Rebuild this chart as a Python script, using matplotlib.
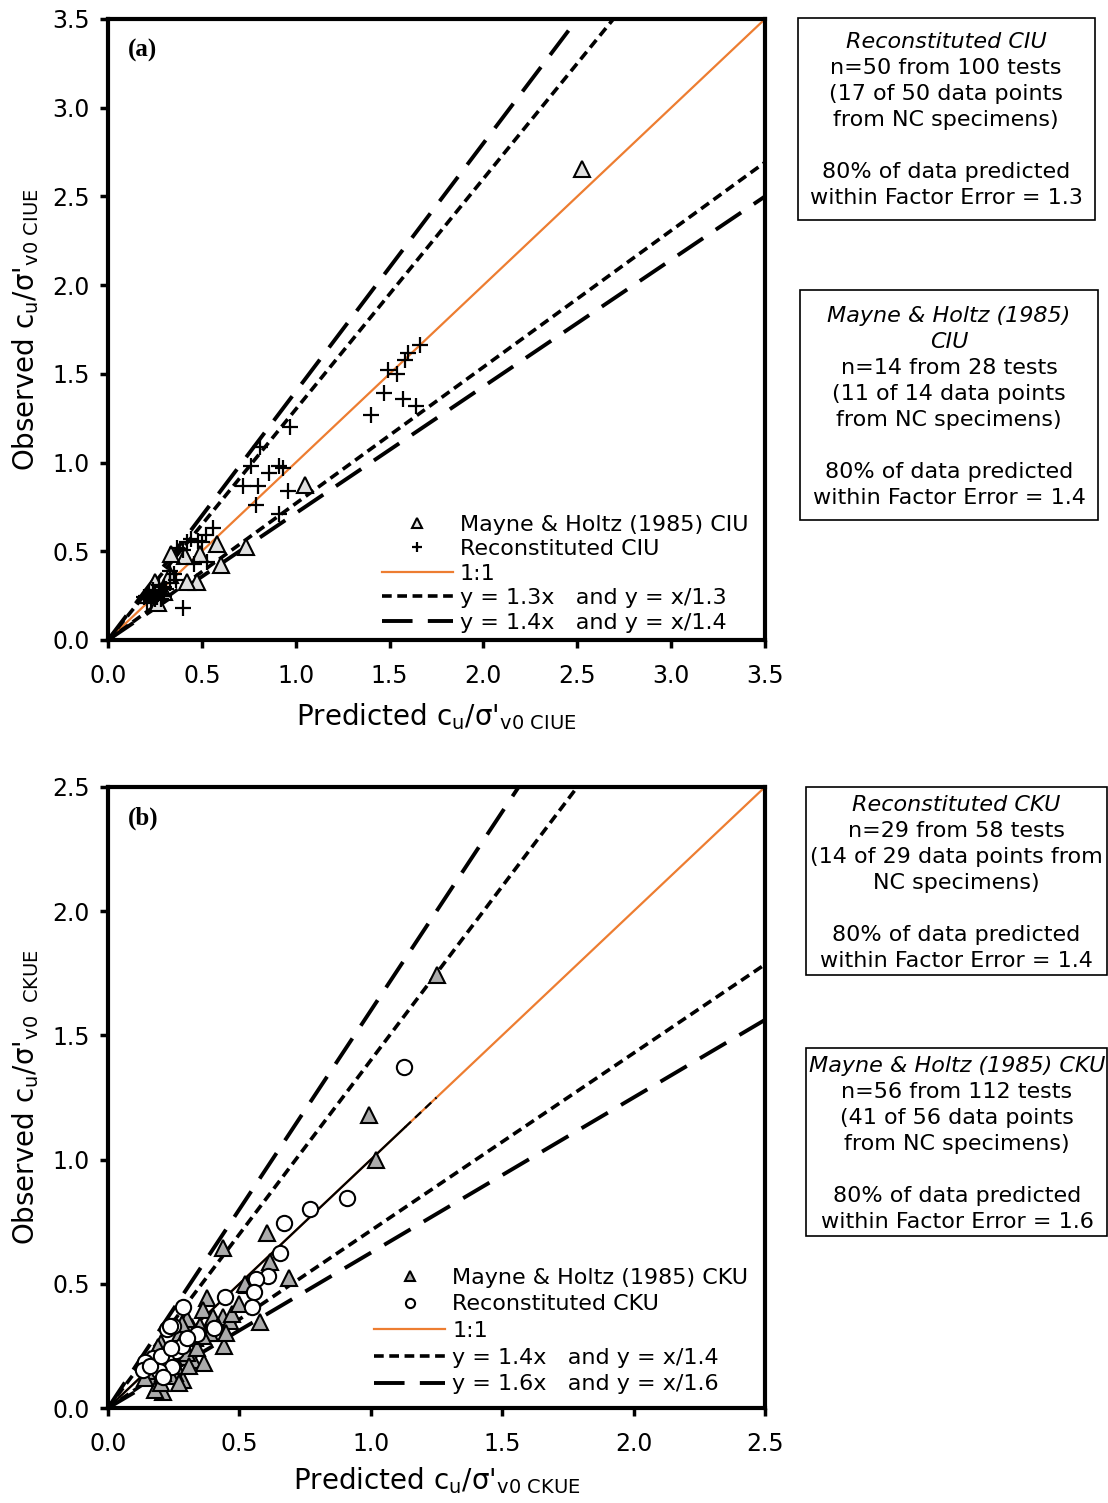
import matplotlib
matplotlib.use("Agg")
import matplotlib.pyplot as plt
import numpy as np
from matplotlib.patches import Rectangle

plt.rcParams['font.family'] = ['DejaVu Sans']
plt.rcParams['lines.scale_dashes'] = False

# ---------------- Data: panel (a) ----------------
mh_ciu_x = [2.525, 1.05, 0.733, 0.600, 0.579, 0.490, 0.410, 0.336, 0.472, 0.423, 0.330, 0.250, 0.268, 0.30]
mh_ciu_y = [2.655, 0.874, 0.526, 0.423, 0.539, 0.485, 0.475, 0.485, 0.329, 0.325, 0.366, 0.329, 0.207, 0.27]

rc_ciu_x = [1.66, 1.60, 1.58, 1.49, 1.54, 1.47, 1.57, 1.64, 1.40, 0.97,
            0.81, 0.76, 0.91, 0.93, 0.86, 0.72, 0.80, 0.96, 0.79, 0.91,
            0.56, 0.52, 0.50, 0.44, 0.40, 0.53, 0.46, 0.40, 0.36, 0.31,
            0.30, 0.28, 0.26, 0.22, 0.19, 0.21, 0.25, 0.33, 0.27, 0.23,
            0.24, 0.29, 0.35, 0.42, 0.20, 0.33, 0.25, 0.30, 0.37, 0.48]
rc_ciu_y = [1.66, 1.62, 1.58, 1.52, 1.50, 1.39, 1.36, 1.32, 1.27, 1.20,
            1.09, 0.98, 0.98, 0.97, 0.94, 0.87, 0.87, 0.84, 0.76, 0.71,
            0.63, 0.59, 0.55, 0.57, 0.51, 0.44, 0.43, 0.18, 0.34, 0.29,
            0.30, 0.23, 0.24, 0.26, 0.24, 0.21, 0.27, 0.32, 0.31, 0.22,
            0.28, 0.26, 0.37, 0.55, 0.25, 0.39, 0.23, 0.25, 0.52, 0.56]

# ---------------- Data: panel (b) ----------------
rc_cku_x = [1.126, 0.909, 0.767, 0.668, 0.654, 0.607, 0.563, 0.556, 0.547, 0.444,
            0.287, 0.249, 0.223, 0.405, 0.337, 0.259, 0.173, 0.141, 0.219, 0.242,
            0.132, 0.195, 0.210, 0.235, 0.28, 0.16, 0.20, 0.30, 0.24]
rc_cku_y = [1.373, 0.845, 0.800, 0.744, 0.625, 0.530, 0.518, 0.468, 0.408, 0.447,
            0.406, 0.331, 0.318, 0.323, 0.297, 0.229, 0.200, 0.186, 0.193, 0.166,
            0.153, 0.150, 0.126, 0.330, 0.25, 0.17, 0.21, 0.28, 0.24]

mh_cku_x = [1.252, 0.993, 1.020, 0.606, 0.436, 0.616, 0.528, 0.690, 0.578, 0.378,
            0.363, 0.401, 0.439, 0.464, 0.318, 0.309, 0.373, 0.274, 0.202, 0.325,
            0.283, 0.367, 0.287, 0.255, 0.160, 0.185, 0.210, 0.179, 0.191, 0.441,
            0.52, 0.33, 0.25, 0.22, 0.30, 0.35, 0.42, 0.28, 0.24, 0.20,
            0.17, 0.26, 0.31, 0.23, 0.47, 0.39, 0.34, 0.14, 0.19, 0.27,
            0.21, 0.36, 0.50, 0.30, 0.45, 0.28]
mh_cku_y = [1.743, 1.180, 0.998, 0.703, 0.643, 0.589, 0.495, 0.522, 0.347, 0.442,
            0.395, 0.365, 0.368, 0.351, 0.327, 0.314, 0.301, 0.301, 0.260, 0.193,
            0.207, 0.180, 0.113, 0.142, 0.126, 0.086, 0.066, 0.072, 0.247, 0.250,
            0.50, 0.28, 0.20, 0.17, 0.22, 0.33, 0.33, 0.27, 0.13, 0.10,
            0.15, 0.17, 0.17, 0.22, 0.38, 0.30, 0.24, 0.12, 0.18, 0.10,
            0.14, 0.29, 0.42, 0.36, 0.30, 0.34]

ticks_a = [0.0, 0.5, 1.0, 1.5, 2.0, 2.5, 3.0, 3.5]
ticks_b = [0.0, 0.5, 1.0, 1.5, 2.0, 2.5]
factors_a = (1.3, 1.4)
factors_b = (1.4, 1.6)
black_overlay_b = [0.0, 1.13]
black_dash_b = [1.13, 1.25]

box_texts_a = [
    [("Reconstituted CIU", True), ("n=50 from 100 tests", False), ("(17 of 50 data points", False),
     ("from NC specimens)", False), ("", False), ("80% of data predicted", False),
     ("within Factor Error = 1.3", False)],
    [("Mayne & Holtz (1985)", True), ("CIU", True), ("n=14 from 28 tests", False),
     ("(11 of 14 data points", False), ("from NC specimens)", False), ("", False),
     ("80% of data predicted", False), ("within Factor Error = 1.4", False)],
]
box_texts_b = [
    [("Reconstituted CKU", True), ("n=29 from 58 tests", False), ("(14 of 29 data points from", False),
     ("NC specimens)", False), ("", False), ("80% of data predicted", False),
     ("within Factor Error = 1.4", False)],
    [("Mayne & Holtz (1985) CKU", True), ("n=56 from 112 tests", False), ("(41 of 56 data points", False),
     ("from NC specimens)", False), ("", False), ("80% of data predicted", False),
     ("within Factor Error = 1.6", False)],
]

W, H = 1108, 1503
fig = plt.figure(figsize=(W / 100, H / 100), dpi=100)

def fx(px):
    return px / W

def fy(py):
    return 1 - py / H

ORANGE = '#ED7D31'
SHORT = (7, 4)
LONG = (22, 11)

def style_axes(ax, ticks):
    lim = ticks[-1]
    ax.set_xlim(0, lim)
    ax.set_ylim(0, lim)
    ax.set_xticks(ticks)
    ax.set_yticks(ticks)
    ax.set_xticklabels([f"{t:.1f}" for t in ticks])
    ax.set_yticklabels([f"{t:.1f}" for t in ticks])
    for s in ax.spines.values():
        s.set_linewidth(3)
    ax.tick_params(direction='out', length=6, width=2.5, labelsize=17)
    ax.tick_params(axis='x', pad=11)
    ax.tick_params(axis='y', pad=7)

def draw_lines(ax, lim, f1, f2):
    xs = np.array([0.0, lim])
    ax.plot(xs, xs, color=ORANGE, lw=1.6, label='1:1', zorder=2)
    ax.plot(xs, xs * f1, color='black', lw=2.6, dashes=SHORT, zorder=2,
            label=f'y = {f1}x   and y = x/{f1}')
    ax.plot(xs, xs / f1, color='black', lw=2.6, dashes=SHORT, zorder=2)
    ax.plot(xs, xs * f2, color='black', lw=2.8, dashes=LONG, zorder=2,
            label=f'y = {f2}x   and y = x/{f2}')
    ax.plot(xs, xs / f2, color='black', lw=2.8, dashes=LONG, zorder=2)

def draw_box(x0, y0, x1, y1, lines, xc, ytop, step=26):
    rect = Rectangle((fx(x0), fy(y1)), fx(x1) - fx(x0), fy(y0) - fy(y1),
                     transform=fig.transFigure, fill=False, edgecolor='black', lw=1.2)
    fig.patches.append(rect)
    for i, (t, it) in enumerate(lines):
        if t:
            fig.text(fx(xc), fy(ytop + i * step), t, ha='center', va='center',
                     fontsize=16, style='italic' if it else 'normal')

def add_legend(ax, names, spacing, yanchor):
    h, l = ax.get_legend_handles_labels()
    order = [l.index(n) for n in names]
    ax.legend([h[i] for i in order], [l[i] for i in order], loc='lower right', frameon=False,
              fontsize=16, handlelength=3.2, handletextpad=0.3, labelspacing=spacing,
              markerscale=0.6, borderaxespad=0.3, bbox_to_anchor=(0.998, yanchor))

# ---------------- Panel (a) ----------------
axa = fig.add_axes([fx(108), fy(640), fx(765) - fx(108), fy(19) - fy(640)])
style_axes(axa, ticks_a)
axa.plot(mh_ciu_x, mh_ciu_y, ls='none', marker='^', ms=11, mfc='#E0E0E0', mec='black',
         mew=1.5, label='Mayne & Holtz (1985) CIU', zorder=3)
axa.plot(rc_ciu_x, rc_ciu_y, ls='none', marker='+', ms=12, mec='black', mew=1.6,
         label='Reconstituted CIU', zorder=3)
draw_lines(axa, ticks_a[-1], *factors_a)
add_legend(axa, ['Mayne & Holtz (1985) CIU', 'Reconstituted CIU', '1:1',
                 'y = 1.3x   and y = x/1.3', 'y = 1.4x   and y = x/1.4'], 0.2, -0.013)
axa.text(0.03, 0.968, '(a)', transform=axa.transAxes, fontsize=18, fontweight='bold',
         family='Liberation Serif', va='top')
axa.set_xlabel(r"Predicted c$_\mathregular{u}$/σ'$_\mathregular{v0\ CIUE}$", fontsize=20, labelpad=10)
axa.set_ylabel(r"Observed c$_\mathregular{u}$/σ'$_\mathregular{v0\ CIUE}$", fontsize=20, labelpad=8)

# ---------------- Panel (b) ----------------
axb = fig.add_axes([fx(108), fy(1408), fx(765) - fx(108), fy(787) - fy(1408)])
style_axes(axb, ticks_b)
axb.plot(mh_cku_x, mh_cku_y, ls='none', marker='^', ms=11, mfc='#ABABAB', mec='black',
         mew=1.5, label='Mayne & Holtz (1985) CKU', zorder=3)
axb.plot(rc_cku_x, rc_cku_y, ls='none', marker='o', ms=11, mfc='white', mec='black',
         mew=1.5, label='Reconstituted CKU', zorder=4)
draw_lines(axb, ticks_b[-1], *factors_b)
bx = np.array(black_overlay_b)
axb.plot(bx, bx, color='black', lw=1.6, zorder=2.5)
dx = np.array(black_dash_b)
axb.plot(dx, dx, color='black', lw=1.6, dashes=(6, 4), zorder=2.5)
add_legend(axb, ['Mayne & Holtz (1985) CKU', 'Reconstituted CKU', '1:1',
                 'y = 1.4x   and y = x/1.4', 'y = 1.6x   and y = x/1.6'], 0.3, -0.003)
axb.text(0.03, 0.968, '(b)', transform=axb.transAxes, fontsize=18, fontweight='bold',
         family='Liberation Serif', va='top')
axb.set_xlabel(r"Predicted c$_\mathregular{u}$/σ'$_\mathregular{v0\ CKUE}$", fontsize=20, labelpad=7)
axb.set_ylabel(r"Observed c$_\mathregular{u}$/σ'$_\mathregular{v0\ \ CKUE}$", fontsize=20, labelpad=8)

# ---------------- Text boxes ----------------
draw_box(798, 18, 1095, 220, box_texts_a[0], 946, 42)
draw_box(800, 290, 1098, 520, box_texts_a[1], 949, 316)
draw_box(806, 787, 1107, 975, box_texts_b[0], 956, 805)
draw_box(806, 1048, 1107, 1236, box_texts_b[1], 957, 1066)

fig.savefig('out.png', dpi=100)
